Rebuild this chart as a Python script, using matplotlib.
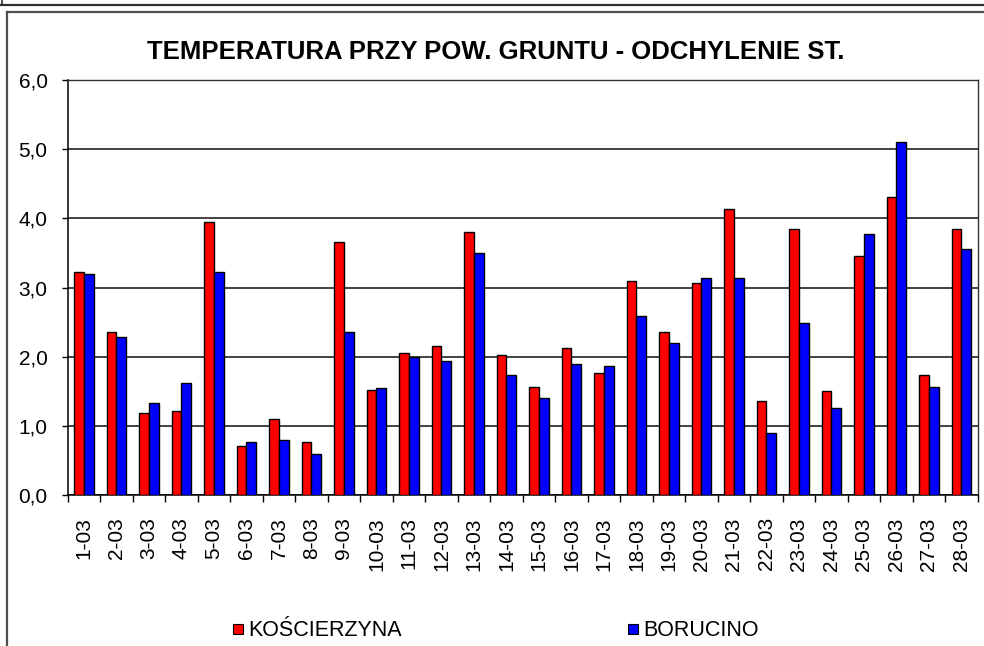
import matplotlib
matplotlib.use("Agg")
import matplotlib.pyplot as plt
from matplotlib.lines import Line2D
import numpy as np

plt.rcParams['font.family'] = ['Liberation Sans', 'DejaVu Sans']

# data
days = [f"{d}-03" for d in range(1, 29)]
koscierzyna = [3.22, 2.35, 1.19, 1.22, 3.95, 0.71, 1.10, 0.77, 3.66, 1.52,
               2.05, 2.15, 3.80, 2.03, 1.56, 2.13, 1.76, 3.10, 2.35, 3.06,
               4.13, 1.36, 3.85, 1.50, 3.46, 4.31, 1.74, 3.84]
borucino = [3.20, 2.29, 1.33, 1.62, 3.22, 0.77, 0.79, 0.59, 2.35, 1.54,
            2.00, 1.94, 3.50, 1.74, 1.40, 1.90, 1.86, 2.59, 2.20, 3.14,
            3.14, 0.89, 2.49, 1.26, 3.78, 5.11, 1.56, 3.56]
yticks = [0, 1, 2, 3, 4, 5, 6]
series_names = ["KOŚCIERZYNA", "BORUCINO"]

W, H = 984, 646
fig = plt.figure(figsize=(W / 100, H / 100), dpi=100)

# frame lines (previous chart bottom edge + this chart's box)
frame_col = '#505050'
fig.add_artist(Line2D([0, 1], [1 - 4.5 / H, 1 - 4.5 / H], color='#303030', lw=1.6,
                      transform=fig.transFigure))
fig.add_artist(Line2D([1.5 / W, 1.5 / W], [1, 1 - 4.5 / H], color='#303030', lw=1.2,
                      transform=fig.transFigure))
fig.add_artist(Line2D([6.5 / W, 1.0], [1 - 12 / H, 1 - 12 / H], color=frame_col, lw=1.6,
                      transform=fig.transFigure))
fig.add_artist(Line2D([6.5 / W, 6.5 / W], [0, 1 - 12 / H], color=frame_col, lw=1.6,
                      transform=fig.transFigure))

left, right, top, bottom = 67.7, 977.7, 80, 495
ax = fig.add_axes([left / W, 1 - bottom / H, (right - left) / W, (bottom - top) / H])

x = np.arange(len(days))
bw = 0.3
ax.bar(x - bw / 2, koscierzyna, bw, color='#FF0000', edgecolor='black', linewidth=1.0, zorder=3)
ax.bar(x + bw / 2, borucino, bw, color='#0000FF', edgecolor='black', linewidth=1.0, zorder=3)

ax.set_xlim(-0.5, len(days) - 0.5)
ax.set_ylim(0, 6)
ax.set_yticks(yticks)
ax.set_yticklabels([f"{v:.1f}".replace('.', ',') for v in yticks], fontsize=15)
ax.tick_params(axis='y', direction='out', length=4.5, width=1.0, pad=10)
ax.yaxis.grid(True, color='#222222', lw=1.2, zorder=0)
ax.set_axisbelow(True)

ax.set_xticks(x)
ax.set_xticklabels(days, rotation=90, fontsize=15, va='top', ha='center')
ax.set_xticks(np.arange(-0.5, len(days)), minor=True)
ax.tick_params(axis='x', which='major', length=0, pad=16)
ax.tick_params(axis='x', which='minor', direction='out', length=5, width=1.0)

for s in ['left', 'bottom']:
    ax.spines[s].set_color('black')
    ax.spines[s].set_linewidth(1.1)
for s in ['top', 'right']:
    ax.spines[s].set_color('#333333')
    ax.spines[s].set_linewidth(1.0)

fig.text(495.5 / W, 1 - 52 / H, "TEMPERATURA PRZY POW. GRUNTU - ODCHYLENIE ST.",
         ha='center', va='center', fontsize=18.5, fontweight='bold')

handles = [Line2D([], [], marker='s', linestyle='none', markersize=7.5,
                  markerfacecolor=c, markeredgecolor='black', markeredgewidth=0.8)
           for c in ['#FF0000', '#0000FF']]
fig.legend(handles, series_names, loc='center left', bbox_to_anchor=(233 / W, 1 - 631 / H),
           ncol=2, frameon=False, fontsize=15.5, handlelength=0.47, handletextpad=0.23,
           columnspacing=10.5, borderpad=0, borderaxespad=0)

fig.savefig("out.png", dpi=100)
